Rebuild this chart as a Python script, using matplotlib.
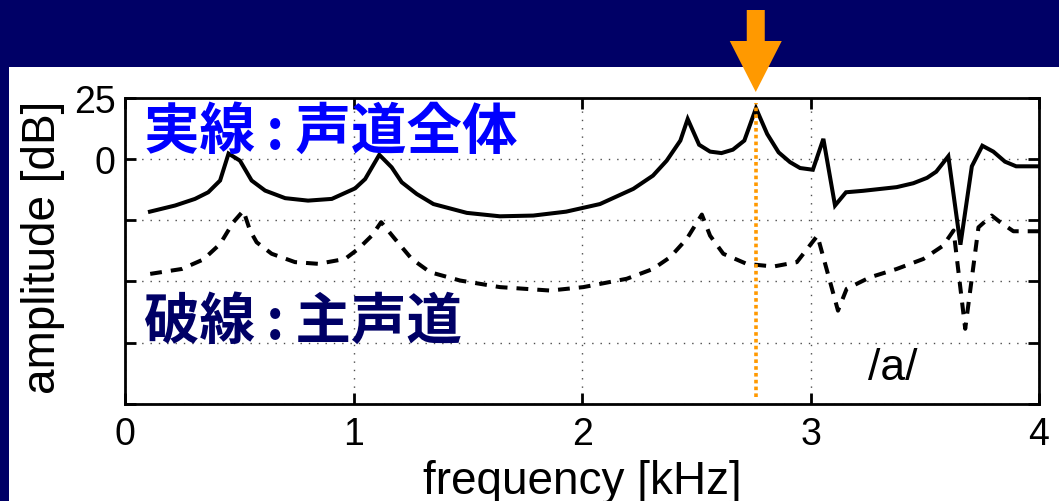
import matplotlib
matplotlib.use("Agg")
import matplotlib.pyplot as plt
from matplotlib.patches import Rectangle, Polygon
from matplotlib.transforms import IdentityTransform

# ---- data ----
freq_solid = [0.108, 0.218, 0.305, 0.363, 0.415, 0.452, 0.502, 0.553, 0.612, 0.70, 0.80, 0.904,
              1.006, 1.05, 1.112, 1.166, 1.21, 1.276, 1.349, 1.495, 1.64, 1.786, 1.93, 2.078,
              2.224, 2.31, 2.37, 2.43, 2.462, 2.512, 2.56, 2.61, 2.66, 2.71, 2.761, 2.81,
              2.86, 2.91, 2.954, 3.01, 3.056, 3.107, 3.155, 3.23, 3.377, 3.45, 3.51, 3.55,
              3.603, 3.656, 3.706, 3.752, 3.80, 3.851, 3.90, 4.0]
amp_solid = [-21.5, -19.0, -16.3, -13.6, -8.8, 2.2, -0.7, -8.8, -12.9, -16.0, -17.0, -16.3,
             -12.0, -8.2, 1.7, -3.4, -9.5, -14.3, -18.4, -22.0, -23.4, -23.1, -21.5, -18.4,
             -12.2, -6.8, -0.7, 7.5, 16.3, 5.8, 3.0, 2.4, 3.8, 7.5, 20.7, 10.2,
             2.7, -1.3, -3.7, -4.4, 8.2, -19.0, -13.6, -13.0, -11.5, -9.9, -7.7, -5.2,
             1.1, -35.0, -3.0, 5.4, 3.0, -1.1, -3.0, -3.0]

freq_dashed = [0.109, 0.247, 0.342, 0.415, 0.473, 0.517, 0.546, 0.575, 0.641, 0.743, 0.845, 0.962,
               1.02, 1.079, 1.12, 1.18, 1.254, 1.334, 1.465, 1.64, 1.86, 2.005, 2.195, 2.31,
               2.385, 2.458, 2.524, 2.56, 2.618, 2.72, 2.837, 2.94, 3.03, 3.12, 3.158, 3.26,
               3.377, 3.494, 3.58, 3.626, 3.677, 3.735, 3.793, 3.83, 3.888, 4.0]
amp_dashed = [-46.9, -44.9, -41.0, -34.7, -25.8, -21.1, -29.2, -34.0, -38.7, -42.1, -42.8, -40.8,
              -36.7, -31.3, -25.8, -32.6, -40.8, -46.2, -49.6, -52.3, -53.7, -52.3, -48.9, -44.9,
              -40.1, -32.6, -22.7, -31.3, -38.7, -42.8, -43.9, -42.1, -31.3, -61.9, -53.0, -48.3,
              -44.9, -40.8, -35.4, -29.2, -69.3, -27.9, -23.1, -25.8, -29.5, -29.5]

marker_freq = 2.76
marker_range = [-97, 23]

x_ticks = [0, 1, 2, 3, 4]
x_tick_labels = ["0", "1", "2", "3", "4"]
y_ticks = [-100, -75, -50, -25, 0, 25]
y_tick_labels = ["", "", "", "", "0", "25"]

label_solid = "実線\u2009:\u2009声道全体"
label_dashed = "破線\u2009:\u2009主声道"
vowel = "/a/"

NAVY = "#000066"
ORANGE = "#FF9900"
BLUE = "#0000FF"

plt.rcParams["font.family"] = ["Liberation Sans", "DejaVu Sans"]
plt.rcParams["lines.scale_dashes"] = False

W, H = 1059, 502
fig = plt.figure(figsize=(W / 100, H / 100), dpi=100, facecolor="white")

# background bands
fig.add_artist(Rectangle((0, 1 - 68 / H), 1, 68 / H, transform=fig.transFigure,
                         facecolor=NAVY, edgecolor="none", zorder=0))
fig.add_artist(Rectangle((0, 0), 9 / W, 1, transform=fig.transFigure,
                         facecolor=NAVY, edgecolor="none", zorder=0))

ax_h = 405 - 98.7
ax = fig.add_axes([125.3 / W, 1 - 405 / H, (1039 - 125.3) / W, ax_h / H])
ax.set_facecolor("white")

ax.plot(freq_solid, amp_solid, color="black", lw=2.9, solid_joinstyle="miter", zorder=3)
ax.plot(freq_dashed, amp_dashed, color="black", lw=2.9, dashes=(8.5, 6.5), zorder=3)
ax.plot([marker_freq, marker_freq], marker_range, color=ORANGE, lw=2.6,
        dashes=(2.6, 2.3), zorder=4)

ax.set_xlim(0, 4)
ax.set_ylim(-100, 25)
ax.set_xticks(x_ticks)
ax.set_xticklabels(x_tick_labels)
ax.set_yticks(y_ticks)
ax.set_yticklabels(y_tick_labels)
ax.tick_params(direction="in", length=8, width=2, labelsize=27, top=True, right=True,
               colors="black")
ax.tick_params(axis="x", pad=9)
ax.tick_params(axis="y", pad=7)
for s in ax.spines.values():
    s.set_linewidth(2)
ax.grid(True, color="0.3", lw=1, linestyle=(0, (1, 5)))
ax.set_axisbelow(True)

ax.set_xlabel("frequency [kHz]", fontsize=33)
ax.set_ylabel("amplitude [dB]", fontsize=33)
ax.xaxis.set_label_coords(0.5, (405 - 460) / ax_h)
ax.yaxis.set_label_coords((65 - 125.3) / 913.7, (405 - 247.5) / ax_h)

cjk = ["Noto Sans CJK JP", "DejaVu Sans"]
ax.text(0.02, 0.98, label_solid, transform=ax.transAxes, fontsize=40, fontweight="bold",
        color=BLUE, family=cjk, ha="left", va="top", zorder=5)
ax.text(0.02, 0.36, label_dashed, transform=ax.transAxes, fontsize=40, fontweight="bold",
        color=NAVY, family=cjk, ha="left", va="top", zorder=5)
ax.text(3.36, -85.2, vowel, fontsize=32, color="black", ha="center", va="center", zorder=5)

# orange arrow above the marker
fig.canvas.draw()
tip_x = ax.transData.transform((marker_freq, 0))[0]
tip_y = H - 93
head_y = H - 42
top_y = H - 11
arrow_pts = [(tip_x, tip_y), (tip_x - 26, head_y), (tip_x - 9, head_y), (tip_x - 9, top_y),
             (tip_x + 9, top_y), (tip_x + 9, head_y), (tip_x + 26, head_y)]
fig.add_artist(Polygon(arrow_pts, closed=True, transform=IdentityTransform(),
                       facecolor=ORANGE, edgecolor="none", zorder=6))

fig.savefig("out.png", dpi=100, facecolor="white")
